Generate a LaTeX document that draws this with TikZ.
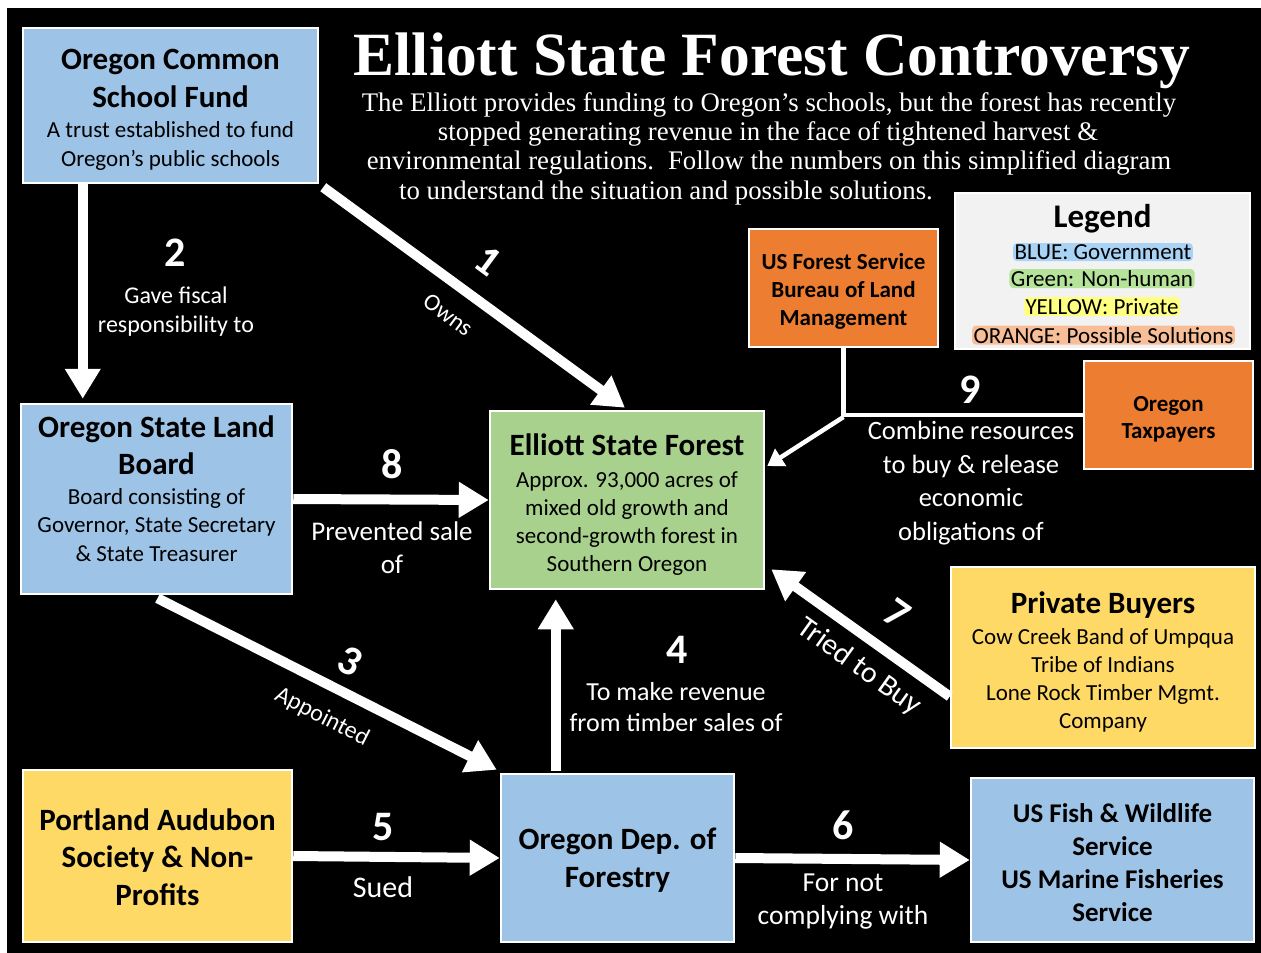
\documentclass[tikz,border=0pt]{standalone}
\usepackage{fontspec}
\setmainfont{Carlito}
\newfontfamily\serifx{Liberation Serif}
\usetikzlibrary{arrows.meta,calc}
\newcommand\hsz[1]{\fontsize{#1}{0}\selectfont}
\definecolor{cblue}{HTML}{9DC3E6}
\definecolor{cgreen}{HTML}{A9D18E}
\definecolor{corange}{HTML}{ED7D31}
\definecolor{cyellow}{HTML}{FFD966}
\definecolor{cgrey}{HTML}{F2F2F2}
\definecolor{hlblue}{HTML}{A9D3F5}
\definecolor{hlgreen}{HTML}{B5E39A}
\definecolor{hlyellow}{HTML}{FFFF80}
\definecolor{hlorange}{HTML}{F8BE98}
\begin{document}
\begin{tikzpicture}[x=1pt,y=-1pt,
  lsz/.style={font={\hsz{#1}\lineskiplimit=-1000pt}},
  bsz/.style={font={\bfseries\hsz{#1}\lineskiplimit=-1000pt}},
  box/.style={draw=white, line width=2.5pt, inner sep=0pt},
  btext/.style={align=center, text=black, inner sep=0pt, lsz=23},
  lbl/.style={text=white, align=center, inner sep=0pt, lsz=25},
  num/.style={text=white, inner sep=0pt, font=\bfseries\hsz{42}},
  arr/.style={draw=white, line width=10pt, -{Triangle[length=30pt,width=34pt]}},
  conn/.style={draw=white, line width=4.5pt},
  hl/.style={inner sep=1.5pt, rounded corners=4pt, text=black, anchor=base, font=\hsz{23}},
  desc/.style={text=white, anchor=base, inner sep=0pt, font=\serifx\hsz{26.8}}]
\useasboundingbox (0,0) rectangle (1261,953);
\fill[white] (0,0) rectangle (1261,953);
\fill[black] (7,8) rectangle (1261,953);

% title and description
\node[text=white, anchor=base, inner sep=0pt, font=\serifx\bfseries\hsz{61.5}] (title) at (772,75) {Elliott State Forest Controversy};
\node[desc] (desc1) at (769,111) {The Elliott provides funding to Oregon’s schools, but the forest has recently};
\node[desc] (desc2) at (768,140) {stopped generating revenue in the face of tightened harvest \&};
\node[desc] (desc3) at (769,169) {environmental regulations.\hspace{14pt}Follow the numbers on this simplified diagram};
\node[desc] (desc4) at (666,199) {to understand the situation and possible solutions.};

% boxes
\node[box, fill=cblue, minimum width=295pt, minimum height=155pt] (fund) at (170.5,105.5) {};
\node[btext] (fund-t) at ($(fund)+(0,4.5)$)
  {{\bfseries\hsz{31}Oregon Common}\\[38pt]{\bfseries\hsz{31}School Fund}\\[30pt]A trust established to fund\\[29pt]Oregon’s public schools};
\node[box, fill=cblue, minimum width=271pt, minimum height=190pt] (land) at (156.5,499) {};
\node[btext] (land-t) at ($(land)+(0,-10.5)$)
  {{\bfseries\hsz{31}Oregon State Land}\\[37pt]{\bfseries\hsz{31}Board}\\[30pt]Board consisting of\\[28pt]Governor, State Secretary\\[29pt]\& State Treasurer};
\node[box, fill=cgreen, minimum width=274pt, minimum height=178pt] (forest) at (627,500) {};
\node[btext] (forest-t) at ($(forest)+(0,4.5)$)
  {{\bfseries\hsz{31}Elliott State Forest}\\[32pt]Approx. 93,000 acres of\\[28pt]mixed old growth and\\[28pt]second-growth forest in\\[28pt]Southern Oregon};
\node[box, fill=corange, minimum width=189pt, minimum height=118pt] (usfs) at (843.5,288) {};
\node[btext, bsz=23] (usfs-t) at ($(usfs)+(0,3)$)
  {US Forest Service\\[28pt]Bureau of Land\\[28pt]Management};
\node[box, fill=cgrey, minimum width=295pt, minimum height=156pt] (legend) at (1102.5,271) {};
\node[anchor=base, inner sep=0pt, font=\bfseries\hsz{33}] (legtitle) at (1102.5,227) {Legend};
\node[hl, fill=hlblue] (leg1) at (1103,259.5) {BLUE: Government};
\node[hl, fill=hlgreen] (leg2) at (1102,286.5) {Green: Non-human};
\node[hl, fill=hlyellow] (leg3) at (1102,314.5) {YELLOW: Private};
\node[hl, fill=hlorange] (leg4) at (1103.5,343) {ORANGE: Possible Solutions};
\node[box, fill=corange, minimum width=169pt, minimum height=108pt] (tax) at (1168.5,415) {};
\node[btext, bsz=23] (tax-t) at ($(tax)+(0,4.5)$) {Oregon\\[27pt]Taxpayers};
\node[box, fill=cyellow, minimum width=304pt, minimum height=181pt] (priv) at (1103,657.5) {};
\node[btext] (priv-t) at ($(priv)+(0,4.5)$)
  {{\bfseries\hsz{31}Private Buyers}\\[31pt]Cow Creek Band of Umpqua\\[28pt]Tribe of Indians\\[28pt]Lone Rock Timber Mgmt.\\[28pt]Company};
\node[box, fill=cyellow, minimum width=269pt, minimum height=172pt] (aud) at (157.5,856) {};
\node[btext, bsz=31] (aud-t) at ($(aud)+(0,1)$)
  {Portland Audubon\\[37.5pt]Society \& Non-\\[37.5pt]Profits};
\node[box, fill=cblue, minimum width=233pt, minimum height=168pt] (odf) at (617.5,858) {};
\node[btext, bsz=31] (odf-t) at ($(odf)+(0,2)$) {Oregon Dep. of\\[38pt]Forestry};
\node[box, fill=cblue, minimum width=283pt, minimum height=164pt] (fish) at (1112.5,860) {};
\node[btext, bsz=27] (fish-t) at ($(fish)+(0,2.5)$)
  {US Fish \& Wildlife\\[33pt]Service\\[33pt]US Marine Fisheries\\[33pt]Service};

% connectors
\draw[arr] ($(fund.south east)+(4,3)$) -- ($(forest.north)+(-2,-2)$);
\draw[arr] ($(fund.south west)+(61,0)$) -- ($(land.north west)+(63,-4)$);
\draw[arr] ($(land.south)+(1,3)$) -- ($(odf.north west)+(-3,-3)$);
\draw[arr] ($(odf.north west)+(56,-2)$) -- ($(forest.south west)+(67,9)$);
\draw[arr] (aud.east) -- (odf.west);
\draw[arr] (odf.east) -- (fish.west);
\draw[arr] ($(priv.west)+(0,39)$) -- ($(forest.south east)+(6,-21)$);
\draw[arr] (land.east) -- (forest.west);
\draw[conn] (usfs.south) |- (tax.west);
\coordinate (c9) at (usfs.south |- tax.west);
\draw[conn, -{Triangle[length=16pt,width=20pt]}] ($(c9)+(0,2)$) -- ($(forest.east)+(2,-34)$);

% labels
\node[num, rotate=-36.5] (n1) at (488,261) {1};
\node[lbl, rotate=-36.5, lsz=24] (l1) at (448,315) {Owns};
\node[num] (n2) at (175,253) {2};
\node[lbl, lsz=24] (l2) at (176,311.5) {Gave fiscal\\[29pt]responsibility to};
\node[num, rotate=-26.9] (n3) at (350,661) {3};
\node[lbl, rotate=-26.9, lsz=24] (l3) at (322,717) {Appointed};
\node[num] (n4) at (677,650) {4};
\node[lbl, lsz=26] (l4) at (676,707.5) {To make revenue\\[31pt]from timber sales of};
\node[num] (n5) at (383,827) {5};
\node[lbl, lsz=30] (l5) at (383,887) {Sued};
\node[num] (n6) at (843,825) {6};
\node[lbl, lsz=27.5] (l6) at (843,901.5) {For not\\[33pt]complying with};
\node[num, rotate=-35.6] (n7) at (897,614) {7};
\node[lbl, rotate=-35.6, lsz=30] (l7) at (859,667) {Tried to Buy};
\node[num] (n8) at (392,464) {8};
\node[lbl, lsz=27] (l8) at (392,547.5) {Prevented sale\\[33pt]of};
\node[num] (n9) at (970,390) {9};
\node[lbl, lsz=26.5] (l9) at (971,483) {Combine resources\\[33.5pt]to buy \& release\\[33.5pt]economic\\[33.5pt]obligations of};
\end{tikzpicture}
\end{document}
